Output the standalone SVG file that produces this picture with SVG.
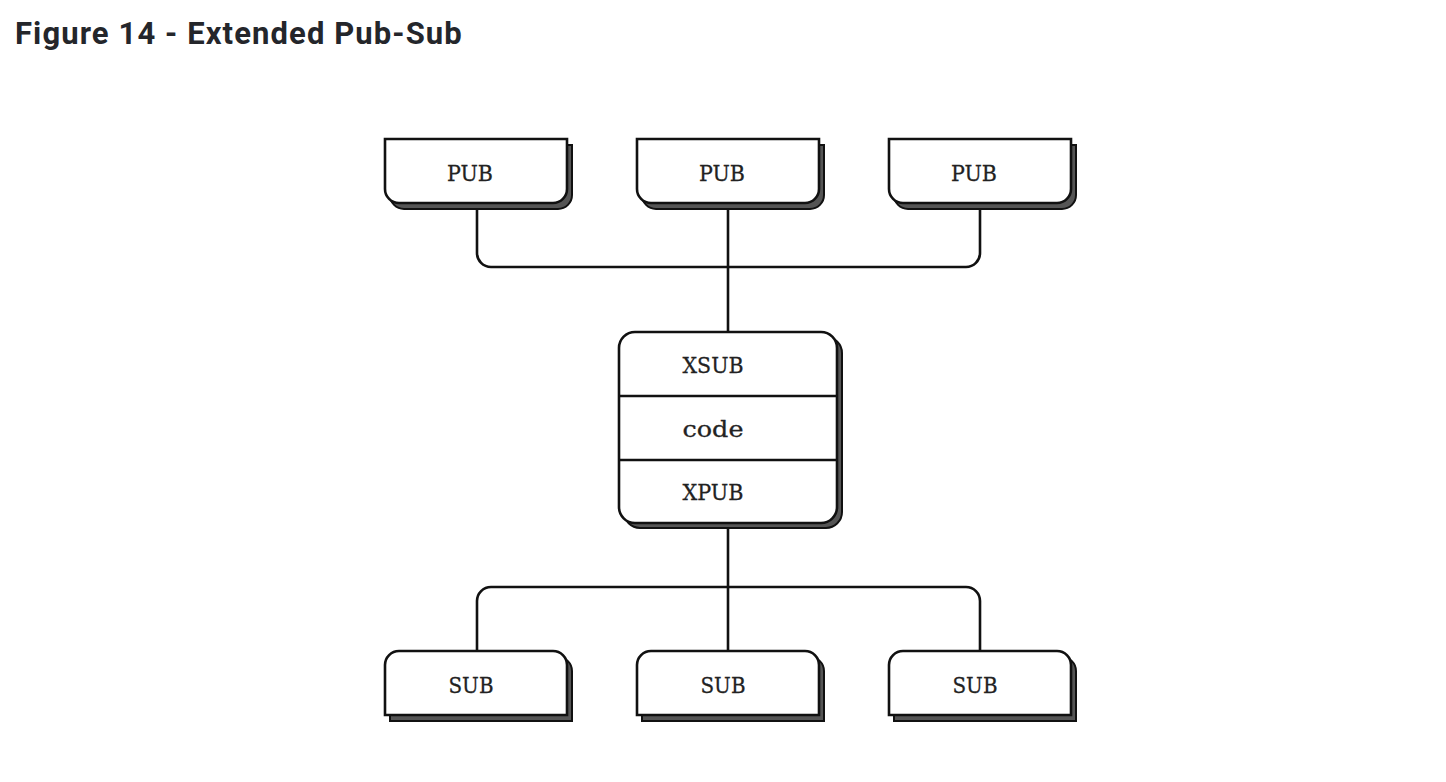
<svg xmlns="http://www.w3.org/2000/svg" width="1446" height="782" viewBox="0 0 1446 782">
<style>
.title{font-family:Roboto,"Liberation Sans",sans-serif;font-weight:bold;font-size:31px;letter-spacing:1.1px;fill:#24262b}
.lbl{font-family:"DejaVu Serif","Liberation Serif",serif;font-size:23px;fill:#222;text-anchor:middle;stroke:#222;stroke-width:0.3}
.box{fill:#fff;stroke:#111;stroke-width:2.6}
.shadow{fill:#555;stroke:#111;stroke-width:2}
.conn{fill:none;stroke:#111;stroke-width:2.6}
</style>
<defs>
<path id="pubshape" d="M0,0 H182 V50 A14,14 0 0 1 168,64 H14 A14,14 0 0 1 0,50 Z"/>
<path id="subshape" d="M14,0 H168 A14,14 0 0 1 182,14 V64 H0 V14 A14,14 0 0 1 14,0 Z"/>
</defs>
<rect width="1446" height="782" fill="#fff"/>
<text class="title" x="15" y="44">Figure 14 - Extended Pub-Sub</text>
<g id="connectors">
<path class="conn" d="M477,203 V253 A14,14 0 0 0 491,267 H966 A14,14 0 0 0 980,253 V203"/>
<path class="conn" d="M728,203 V332"/>
<path class="conn" d="M477,651 V601 A14,14 0 0 1 491,587 H966 A14,14 0 0 1 980,601 V651"/>
<path class="conn" d="M728,523 V651"/>
</g>
<g id="pub1" transform="translate(385,139)">
<use href="#pubshape" class="shadow" transform="translate(5,6)"/>
<use href="#pubshape" class="box"/>
<text class="lbl" x="85" y="42" textLength="46" lengthAdjust="spacingAndGlyphs">PUB</text>
</g>
<g id="pub2" transform="translate(637,139)">
<use href="#pubshape" class="shadow" transform="translate(5,6)"/>
<use href="#pubshape" class="box"/>
<text class="lbl" x="85" y="42" textLength="46" lengthAdjust="spacingAndGlyphs">PUB</text>
</g>
<g id="pub3" transform="translate(889,139)">
<use href="#pubshape" class="shadow" transform="translate(5,6)"/>
<use href="#pubshape" class="box"/>
<text class="lbl" x="85" y="42" textLength="46" lengthAdjust="spacingAndGlyphs">PUB</text>
</g>
<g id="proxy">
<rect class="shadow" x="624" y="337" width="218" height="191" rx="16"/>
<rect class="box" x="619" y="332" width="218" height="191" rx="16"/>
<line class="conn" x1="619" y1="396" x2="837" y2="396"/>
<line class="conn" x1="619" y1="460" x2="837" y2="460"/>
<text class="lbl" x="713" y="373" textLength="61" lengthAdjust="spacingAndGlyphs">XSUB</text>
<text class="lbl" x="713" y="437" textLength="61" lengthAdjust="spacingAndGlyphs">code</text>
<text class="lbl" x="713" y="500" textLength="61" lengthAdjust="spacingAndGlyphs">XPUB</text>
</g>
<g id="sub1" transform="translate(385,651)">
<use href="#subshape" class="shadow" transform="translate(5,6)"/>
<use href="#subshape" class="box"/>
<text class="lbl" x="86" y="42" textLength="45" lengthAdjust="spacingAndGlyphs">SUB</text>
</g>
<g id="sub2" transform="translate(637,651)">
<use href="#subshape" class="shadow" transform="translate(5,6)"/>
<use href="#subshape" class="box"/>
<text class="lbl" x="86" y="42" textLength="45" lengthAdjust="spacingAndGlyphs">SUB</text>
</g>
<g id="sub3" transform="translate(889,651)">
<use href="#subshape" class="shadow" transform="translate(5,6)"/>
<use href="#subshape" class="box"/>
<text class="lbl" x="86" y="42" textLength="45" lengthAdjust="spacingAndGlyphs">SUB</text>
</g>
</svg>
